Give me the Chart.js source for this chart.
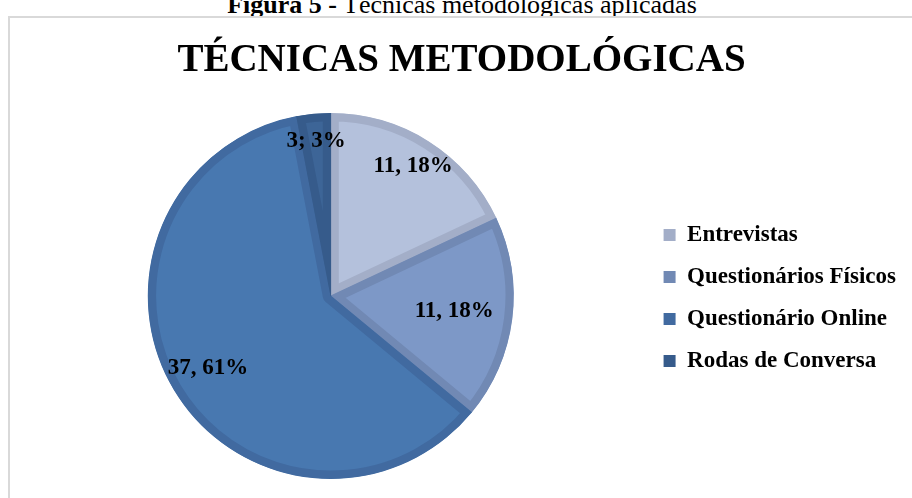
<!DOCTYPE html>
<html>
<head>
<meta charset="utf-8">
<script src="https://cdn.jsdelivr.net/npm/chart.js@4.4.1/dist/chart.umd.min.js"></script>
<style>
  body { margin: 0; width: 912px; height: 498px; overflow: hidden; background: #fff; font-family: "Liberation Serif", "Times New Roman", serif; }
  .caption { position: absolute; left: 0; top: -8px; width: 924px; text-align: center; font-size: 26px; line-height: 26px; color: #000; white-space: nowrap; }
  .frame { position: absolute; left: 8px; top: 16px; width: 920px; height: 500px; border: 2px solid #d9d9d9; }
  #wrap { position: absolute; left: 10px; top: 18px; width: 902px; height: 480px; }
</style>
</head>
<body>
<div class="caption"><b>Figura 5 -</b> Técnicas metodológicas aplicadas</div>
<div class="frame"></div>
<div id="wrap"><canvas id="chart" width="902" height="480"></canvas></div>
<script>
const categories = ['Entrevistas', 'Questionários Físicos', 'Questionário Online', 'Rodas de Conversa'];
const counts = [11, 11, 37, 3];
const percents = [18, 18, 61, 3];
const separators = [',', ',', ',', ';'];
const fillColors = ['#B4C1DC', '#7D98C7', '#4878B0', '#3D6597'];
const bandColors = ['#A3AEC8', '#7189B4', '#416AA0', '#365B8B'];

const serif = '"Liberation Serif", "Times New Roman", serif';

// value labels inside the slices ("11, 18%")
const pieLabels = {
  id: 'pieLabels',
  afterDatasetsDraw(chart, args, opts) {
    const ctx = chart.ctx;
    const meta = chart.getDatasetMeta(0);
    ctx.save();
    ctx.font = 'bold 23px ' + serif;
    ctx.fillStyle = '#000';
    ctx.textAlign = 'center';
    ctx.textBaseline = 'middle';
    meta.data.forEach((arc, i) => {
      const p = arc.getProps(['x', 'y', 'startAngle', 'endAngle', 'outerRadius'], true);
      const mid = (p.startAngle + p.endAngle) / 2;
      const r = p.outerRadius * opts.radius[i];
      const text = counts[i] + separators[i] + ' ' + percents[i] + '%';
      ctx.fillText(text, p.x + Math.cos(mid) * r, p.y + Math.sin(mid) * r);
    });
    ctx.restore();
  }
};

new Chart(document.getElementById('chart'), {
  type: 'pie',
  data: {
    labels: categories,
    datasets: [{
      data: percents,
      backgroundColor: fillColors,
      borderColor: bandColors,
      borderWidth: 8,
      borderAlign: 'inner',
      radius: 183,
      hoverOffset: 0
    }]
  },
  options: {
    responsive: false,
    animation: false,
    events: [],
    layout: { padding: { left: 7, right: 6, top: 0, bottom: 19 } },
    plugins: {
      title: {
        display: true,
        text: 'TÉCNICAS METODOLÓGICAS',
        color: '#000',
        font: { family: serif, size: 39, weight: 'bold', lineHeight: 1.2 },
        padding: { top: 20, bottom: 28 }
      },
      legend: {
        position: 'right',
        // empty legend title only pushes the items down beside the pie
        title: { display: true, text: '', color: '#000', font: { size: 10, lineHeight: 1 }, padding: { top: 89, bottom: 0 } },
        labels: {
          boxWidth: 12,
          boxHeight: 12,
          padding: 19,
          color: '#000',
          font: { family: serif, size: 23, weight: 'bold' },
          generateLabels: (chart) => chart.data.labels.map((label, i) => ({
            text: label,
            fillStyle: bandColors[i],
            strokeStyle: bandColors[i],
            fontColor: '#000',
            lineWidth: 0,
            hidden: false,
            index: i
          }))
        }
      },
      tooltip: { enabled: false },
      pieLabels: { radius: [0.84, 0.68, 0.78, 0.85] }
    }
  },
  plugins: [pieLabels]
});
</script>
</body>
</html>
